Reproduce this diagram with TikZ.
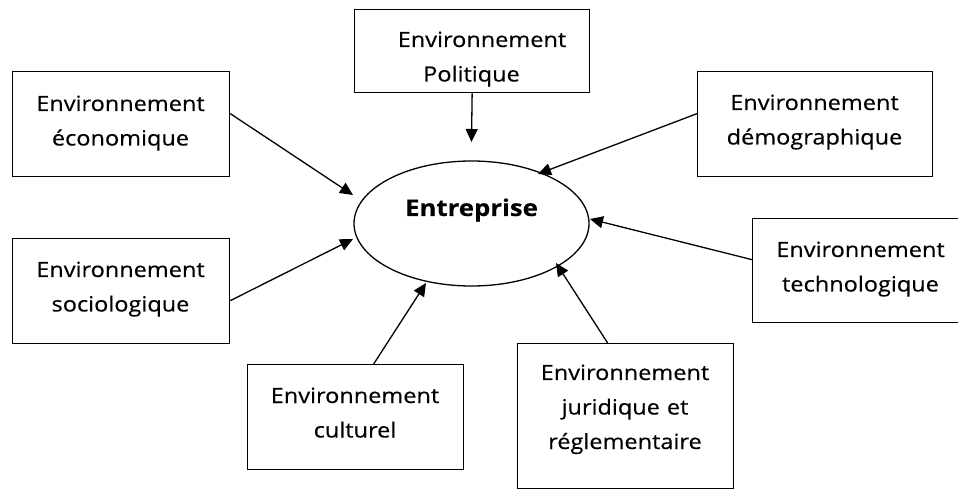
\documentclass[tikz,border=0pt]{standalone}
\usepackage{fontspec}
\setmainfont{Open Sans}[FakeStretch=1.12, FakeBold=0.4, BoldFeatures={FakeBold=0.3}]
\usetikzlibrary{arrows.meta,shapes.geometric}
\tikzset{
  envbox/.style={draw, line width=1.3bp, rectangle, inner sep=0pt, anchor=north west},
  txt/.style={anchor=base, inner sep=0pt, text width=230bp, align=center,
    font=\fontsize{21bp}{34.5bp}\selectfont},
  arr/.style={-{Triangle[length=13bp,width=12bp]}, line width=1.3bp},
}
\begin{document}
\begin{tikzpicture}[x=1bp,y=-1bp]
\useasboundingbox (0,0) rectangle (958,489);
\clip (0,0) rectangle (958,489);
% boxes
\node[envbox, minimum width=235bp, minimum height=83bp] (pol) at (354,9) {};
\node[envbox, minimum width=217bp, minimum height=105bp] (eco) at (12,71) {};
\node[envbox, minimum width=235bp, minimum height=105bp] (dem) at (697,71) {};
\node[envbox, minimum width=217bp, minimum height=105bp] (soc) at (12,238) {};
\node[envbox, minimum width=217bp, minimum height=104bp] (tech) at (752,218) {};
\node[envbox, minimum width=216bp, minimum height=105bp] (cul) at (247,364) {};
\node[envbox, minimum width=216bp, minimum height=145bp] (jur) at (517,343) {};
% texts
\node[txt] (polT) at (471.5,47) {\hspace*{21bp}Environnement\\Politique};
\node[txt] (ecoT) at (120.5,111) {Environnement\\économique};
\node[txt] (demT) at (814.5,110) {Environnement\\démographique};
\node[txt] (socT) at (120.5,277) {Environnement\\sociologique};
\node[txt] (techT) at (860.5,257) {Environnement\\technologique};
\node[txt] (culT) at (355,403) {Environnement\\culturel};
\node[txt] (jurT) at (625,380) {Environnement\\juridique et\\réglementaire};
% centre
\node[draw, ellipse, line width=1.3bp, minimum width=235bp, minimum height=125bp, inner sep=0pt] (ent) at (471.5,223.5) {};
\node[anchor=base, inner sep=0pt, font=\fontsize{23bp}{26bp}\selectfont\bfseries] (entT) at (471.5,216) {Entreprise};
% arrow tips
\coordinate (tPol) at (471.5,142);
\coordinate (tEco) at (353,195);
\coordinate (tSoc) at (353,239);
\coordinate (tCul) at (426,283);
\coordinate (tJur) at (556,263);
\coordinate (tTech) at (590,219);
\coordinate (tDem) at (538,174);
% arrows
\draw[arr] (pol.south) -- (tPol);
\draw[arr] ([yshift=10.5bp]eco.east) -- (tEco);
\draw[arr] ([yshift=-9.5bp]soc.east) -- (tSoc);
\draw[arr] ([xshift=18bp]cul.north) -- (tCul);
\draw[arr] ([xshift=-18bp]jur.north) -- (tJur);
\draw[arr] ([yshift=11bp]tech.west) -- (tTech);
\draw[arr] ([yshift=10.5bp]dem.west) -- (tDem);
\end{tikzpicture}
\end{document}
